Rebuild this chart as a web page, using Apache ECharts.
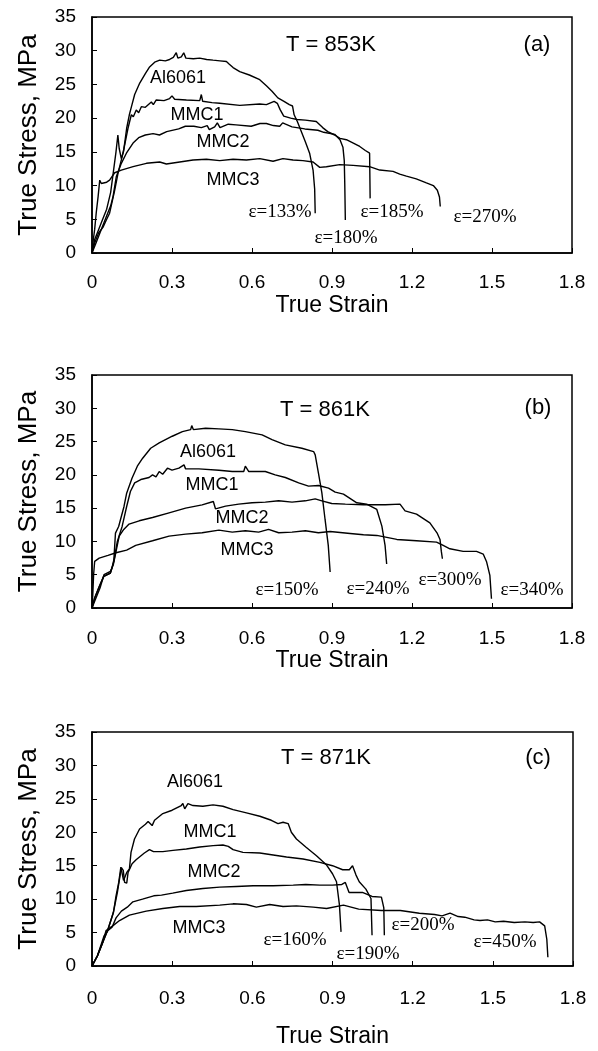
<!DOCTYPE html>
<html>
<head>
<meta charset="utf-8">
<script src="https://cdn.jsdelivr.net/npm/echarts@6/dist/echarts.min.js"></script>
<style>
html,body{margin:0;padding:0;background:#fff;}
#chart{width:598px;height:1051px;}
</style>
</head>
<body>
<div id="chart"></div>
<script>
// ---------- DATA ----------
const xTickLabels = ['0','0.3','0.6','0.9','1.2','1.5','1.8'];
const yTickLabels = ['0','5','10','15','20','25','30','35'];
const xAxisName = 'True Strain';
const yAxisName = 'True Stress, MPa';
const materials = ['Al6061','MMC1','MMC2','MMC3'];
const temperatures = ['T = 853K','T = 861K','T = 871K'];
const panelTags = ['(a)','(b)','(c)'];
const elongA = ['ε=133%','ε=180%','ε=185%','ε=270%'];
const elongB = ['ε=150%','ε=240%','ε=300%','ε=340%'];
const elongC = ['ε=160%','ε=190%','ε=200%','ε=450%'];

// Panel (a) T = 853K
const a_al6061 = [[0,0],[0.01,2],[0.025,3.5],[0.04,5],[0.055,6.5],[0.07,9],[0.08,12],[0.09,15],[0.097,17.5],[0.102,15.5],[0.11,14],[0.118,15],[0.125,17],[0.13,18.5],[0.14,20.5],[0.148,21.7],[0.16,23.5],[0.179,25.2],[0.2,26.6],[0.216,27.6],[0.235,28.3],[0.254,28.6],[0.275,28.5],[0.291,28.7],[0.305,29],[0.316,29.7],[0.322,28.9],[0.335,29.1],[0.344,29.7],[0.352,28.9],[0.38,28.8],[0.404,28.9],[0.43,28.7],[0.454,28.6],[0.48,28.5],[0.504,28.4],[0.515,28.0],[0.529,27.5],[0.554,26.9],[0.59,26.4],[0.629,25.7],[0.654,24.8],[0.675,24.0],[0.697,23.0],[0.72,22.5],[0.74,22.0],[0.752,21.8],[0.758,20.5],[0.77,19.5],[0.783,18.2],[0.8,16.5],[0.816,14.8],[0.829,12.3],[0.835,9.5],[0.837,5.9]];
const a_mmc1 = [[0,0],[0.01,1.5],[0.025,3],[0.041,3.8],[0.055,5],[0.066,5.9],[0.075,7.5],[0.085,9.3],[0.0975,11.8],[0.11,13.8],[0.12,15.5],[0.129,17.3],[0.135,18.5],[0.1475,20.5],[0.155,20.2],[0.166,21.2],[0.175,20.8],[0.185,21.7],[0.2,21.6],[0.2225,22.4],[0.23,22],[0.241,22.7],[0.27,22.6],[0.291,22.9],[0.3,23.3],[0.31,22.8],[0.354,22.7],[0.404,22.6],[0.41,23.5],[0.415,22.5],[0.45,22.3],[0.479,22.2],[0.554,21.9],[0.629,22.1],[0.654,22.0],[0.683,22.5],[0.695,22.2],[0.705,21.3],[0.719,20.3],[0.745,20.0],[0.769,19.8],[0.8,19.7],[0.841,19.5],[0.865,18.6],[0.884,18.0],[0.91,17.5],[0.93,17.0],[0.954,16.8],[0.98,16.3],[1.004,15.8],[1.025,15.2],[1.041,14.8],[1.043,8.1]];
const a_mmc2 = [[0,0],[0.015,1.5],[0.03,3],[0.054,5.4],[0.07,7],[0.079,8.4],[0.091,11.3],[0.11,13.3],[0.129,14.8],[0.154,16.3],[0.175,17.1],[0.2,17.5],[0.229,17.7],[0.253,17.5],[0.28,18],[0.325,18.4],[0.35,18.8],[0.382,18.8],[0.41,18.6],[0.432,18.9],[0.44,18.3],[0.46,18.7],[0.47,19.3],[0.48,18.6],[0.511,19.1],[0.54,19.0],[0.597,18.8],[0.63,19.2],[0.654,19.2],[0.68,18.9],[0.704,18.8],[0.715,19.3],[0.726,19.1],[0.75,18.7],[0.798,18.4],[0.847,18.2],[0.869,17.9],[0.91,17.6],[0.93,16.8],[0.941,15.7],[0.946,13.7],[0.948,10],[0.95,4.9]];
const a_mmc3 = [[0,0],[0.005,2],[0.01,3.5],[0.016,6],[0.023,8.4],[0.029,10.8],[0.035,10.3],[0.041,10.1],[0.055,10.5],[0.066,10.8],[0.085,11.9],[0.11,12.3],[0.154,12.8],[0.204,13.3],[0.254,13.5],[0.279,13.2],[0.329,13.5],[0.379,13.8],[0.429,13.9],[0.479,13.7],[0.529,13.9],[0.579,13.8],[0.629,14.0],[0.679,13.6],[0.716,14.0],[0.754,13.8],[0.791,13.7],[0.829,13.5],[0.854,12.7],[0.879,12.8],[0.929,13.1],[0.979,13.0],[1.041,12.8],[1.079,12.3],[1.129,12.1],[1.154,11.7],[1.179,11.4],[1.216,11.0],[1.254,10.4],[1.28,10.0],[1.295,9.3],[1.303,8.3],[1.306,6.9]];

// Panel (b) T = 861K
const b_al6061 = [[0,0],[0.01,1.5],[0.025,3],[0.044,4.75],[0.069,5.25],[0.075,6],[0.082,7.25],[0.088,11.25],[0.1,12.25],[0.12,15.25],[0.13,17.25],[0.15,19.5],[0.17,21.3],[0.19,22.5],[0.22,24.0],[0.252,24.8],[0.301,25.8],[0.339,26.5],[0.37,26.8],[0.374,27.4],[0.38,26.8],[0.426,27.0],[0.476,26.9],[0.526,26.8],[0.575,26.5],[0.638,26.0],[0.675,25.3],[0.725,24.5],[0.787,24.0],[0.831,23.5],[0.837,23.0],[0.849,20.3],[0.862,17.3],[0.874,13.3],[0.886,9.4],[0.893,5.4]];
const b_mmc1 = [[0,0],[0.01,1.5],[0.03,3.5],[0.044,4.75],[0.069,5.25],[0.082,7],[0.095,10],[0.113,12.25],[0.13,15.25],[0.144,17.5],[0.16,18.8],[0.183,19.3],[0.214,19.6],[0.227,20.0],[0.24,19.7],[0.252,20.5],[0.265,20.1],[0.283,21.0],[0.3,20.7],[0.326,21.0],[0.345,21.5],[0.351,20.9],[0.401,20.9],[0.476,20.7],[0.526,20.5],[0.569,20.5],[0.575,21.3],[0.588,20.5],[0.65,20.5],[0.687,20.0],[0.725,19.6],[0.775,18.8],[0.812,18.3],[0.849,18.4],[0.887,18.0],[0.912,17.4],[0.943,17.1],[0.993,15.8],[1.03,15.6],[1.068,14.8],[1.087,12.3],[1.099,9.4],[1.105,6.6]];
const b_mmc2 = [[0,0],[0.01,1],[0.03,3],[0.045,5],[0.069,5.5],[0.08,6.5],[0.094,9.25],[0.102,10.8],[0.119,11.8],[0.139,12.6],[0.177,13.1],[0.227,13.6],[0.289,14.3],[0.351,15.0],[0.413,15.5],[0.455,16.0],[0.463,14.9],[0.501,15.3],[0.55,15.6],[0.6,15.8],[0.65,15.9],[0.7,16.1],[0.75,15.9],[0.8,16.1],[0.837,16.4],[0.862,16.1],[0.899,15.7],[0.95,15.6],[1.018,15.5],[1.1,15.5],[1.155,15.6],[1.16,15.9],[1.174,14.6],[1.217,14.1],[1.267,12.8],[1.295,11.2],[1.305,10.3],[1.31,8.5],[1.314,7.4]];
const b_mmc3 = [[0,0],[0.003,2],[0.006,5],[0.01,7],[0.027,7.5],[0.06,7.9],[0.09,8.3],[0.13,8.7],[0.164,9.4],[0.227,10.1],[0.289,10.8],[0.351,11.1],[0.413,11.3],[0.476,11.7],[0.526,11.4],[0.575,11.6],[0.625,11.4],[0.662,11.8],[0.7,11.3],[0.75,11.4],[0.8,11.6],[0.849,11.3],[0.893,11.5],[0.968,11.2],[1.018,11.0],[1.068,10.9],[1.143,10.3],[1.217,10.1],[1.292,9.9],[1.317,9.4],[1.342,8.9],[1.392,8.5],[1.442,8.5],[1.467,8.1],[1.48,6.9],[1.492,4.9],[1.498,1.4]];

// Panel (c) T = 871K
const c_al6061 = [[0,0],[0.02,1.5],[0.04,3.5],[0.06,5.5],[0.08,8],[0.09,10.5],[0.1,12.5],[0.108,14.8],[0.113,14.9],[0.118,12.8],[0.125,12.8],[0.13,14],[0.14,14.5],[0.146,17],[0.159,19],[0.178,20.5],[0.2,21.2],[0.21,21.6],[0.225,21.0],[0.234,21.8],[0.265,22.8],[0.3,23.3],[0.334,24.0],[0.34,24.3],[0.347,23.5],[0.359,24.3],[0.378,24.0],[0.415,23.9],[0.453,24.1],[0.49,23.9],[0.528,23.4],[0.578,22.9],[0.628,22.4],[0.671,21.8],[0.696,21.3],[0.715,21.5],[0.734,21.3],[0.746,20.0],[0.765,19.0],[0.8,17.8],[0.84,16.5],[0.878,15.1],[0.9,13.8],[0.915,12.6],[0.926,9.1],[0.932,5.1]];
const c_mmc1 = [[0,0],[0.02,1.5],[0.04,3.5],[0.06,5.5],[0.08,8],[0.095,11],[0.105,13.5],[0.11,14.7],[0.117,14.3],[0.122,12.5],[0.13,12.4],[0.135,14],[0.15,15.3],[0.165,15.9],[0.196,16.9],[0.215,17.4],[0.23,17.1],[0.265,17.1],[0.303,17.3],[0.353,17.5],[0.403,17.8],[0.453,18.0],[0.49,18.1],[0.51,17.9],[0.528,17.4],[0.565,17.0],[0.628,16.9],[0.678,16.6],[0.728,16.3],[0.79,16.0],[0.853,15.5],[0.9,15.0],[0.938,14.4],[0.963,14.4],[0.975,15.0],[0.988,13.6],[1.0,12.6],[1.025,11.5],[1.044,10.1],[1.048,4.6]];
const c_mmc2 = [[0,0],[0.02,1.5],[0.045,4.5],[0.06,5.3],[0.075,5.8],[0.09,7.2],[0.11,8.2],[0.132,8.8],[0.153,9.6],[0.189,10.0],[0.231,10.5],[0.26,10.6],[0.302,10.9],[0.353,11.3],[0.415,11.6],[0.478,11.8],[0.54,11.9],[0.603,12.0],[0.678,12.0],[0.753,12.1],[0.8,12.2],[0.853,12.1],[0.9,12.1],[0.935,12.2],[0.948,12.5],[0.962,11.0],[0.988,11.0],[1.012,11.0],[1.048,10.4],[1.083,10.3],[1.092,8.7],[1.094,4.6]];
const c_mmc3 = [[0,0],[0.02,1.5],[0.04,3.5],[0.0525,5.3],[0.0775,6.0],[0.103,6.8],[0.14,7.6],[0.203,8.2],[0.265,8.6],[0.328,8.9],[0.39,8.9],[0.478,9.1],[0.528,9.3],[0.578,9.2],[0.615,8.8],[0.665,9.2],[0.715,8.9],[0.765,9.0],[0.828,8.8],[0.878,8.6],[0.941,9.1],[0.998,8.5],[1.083,8.3],[1.154,8.3],[1.225,7.9],[1.282,7.7],[1.31,7.5],[1.34,7.9],[1.37,7.4],[1.395,7.3],[1.43,6.9],[1.452,6.8],[1.48,6.9],[1.509,6.6],[1.54,6.7],[1.58,6.5],[1.62,6.6],[1.651,6.5],[1.675,6.6],[1.694,6.0],[1.702,4.0],[1.706,1.3]];

// ---------- LAYOUT ----------
const SANS = '"Liberation Sans", Arial, Helvetica, sans-serif';
const SERIF = '"Liberation Serif", "Times New Roman", serif';
const panels = [
  {grid:{left:92, top:17, width:480, height:236}, labelMargin:20, nameGap:41,
   data:[a_al6061,a_mmc1,a_mmc2,a_mmc3], elong:elongA,
   tPos:[331,45], tagPos:[537,45],
   matPos:[[178,78],[197,115],[223,142],[233,180]],
   elPos:[[280,212],[346,238],[392,212],[485,217]]},
  {grid:{left:92, top:375, width:480, height:233}, labelMargin:21, nameGap:38,
   data:[b_al6061,b_mmc1,b_mmc2,b_mmc3], elong:elongB,
   tPos:[325,410], tagPos:[538,408],
   matPos:[[208,452],[212,485],[242,518],[247,550]],
   elPos:[[287,590],[378,589],[450,580],[532,590]]},
  {grid:{left:92, top:732, width:481, height:234}, labelMargin:23, nameGap:59,
   data:[c_al6061,c_mmc1,c_mmc2,c_mmc3], elong:elongC,
   tPos:[326,758], tagPos:[538,758],
   matPos:[[195,782],[210,832],[214,872],[199,928]],
   elPos:[[295,940],[368,954],[423,925],[505,942]]}
];

const grids = [], xAxes = [], yAxes = [], series = [], graphics = [];
function txt(text, pos, font){
  graphics.push({type:'text', x:pos[0], y:pos[1],
    style:{text:text, font:font, fill:'#000', align:'center', verticalAlign:'middle',
           textAlign:'center', textVerticalAlign:'middle'}});
}
panels.forEach((p, i) => {
  grids.push(Object.assign({show:true, borderColor:'#000', borderWidth:1.5, backgroundColor:'transparent'}, p.grid));
  xAxes.push({
    type:'value', gridIndex:i, min:0, max:1.8, interval:0.3,
    name:xAxisName, nameLocation:'middle', nameGap:p.nameGap,
    nameTextStyle:{fontFamily:SANS, fontSize:23, color:'#000'},
    axisLine:{show:true, onZero:false, lineStyle:{color:'#000', width:1.5}},
    axisTick:{show:true, inside:true, length:5, lineStyle:{color:'#000', width:1}},
    axisLabel:{margin:p.labelMargin, fontFamily:SANS, fontSize:19, color:'#000',
      formatter:(v)=>xTickLabels[Math.round(v/0.3)]},
    splitLine:{show:false}
  });
  yAxes.push({
    type:'value', gridIndex:i, min:0, max:35, interval:5,
    name:yAxisName, nameLocation:'middle', nameGap:50,
    nameTextStyle:{fontFamily:SANS, fontSize:26, color:'#000'},
    axisLine:{show:true, onZero:false, lineStyle:{color:'#000', width:1.5}},
    axisTick:{show:true, inside:true, length:5, lineStyle:{color:'#000', width:1}},
    axisLabel:{margin:16, fontFamily:SANS, fontSize:19, color:'#000',
      formatter:(v)=>yTickLabels[Math.round(v/5)]},
    splitLine:{show:false}
  });
  p.data.forEach((d, k) => {
    series.push({type:'line', name:materials[k]+' '+temperatures[i], xAxisIndex:i, yAxisIndex:i,
      data:d, showSymbol:false, symbol:'none', smooth:false, animation:false,
      lineStyle:{color:'#000', width:1.4}, itemStyle:{color:'#000'}});
  });
  txt(temperatures[i], p.tPos, '22px ' + SANS);
  txt(panelTags[i], p.tagPos, '22px ' + SANS);
  materials.forEach((m, k) => txt(m, p.matPos[k], '18px ' + SANS));
  p.elong.forEach((e, k) => txt(e, p.elPos[k], '19px ' + SERIF));
});

const chart = echarts.init(document.getElementById('chart'), null, {renderer:'canvas'});
chart.setOption({
  backgroundColor:'#fff', animation:false,
  grid:grids, xAxis:xAxes, yAxis:yAxes, series:series, graphic:graphics
});
</script>
</body>
</html>
